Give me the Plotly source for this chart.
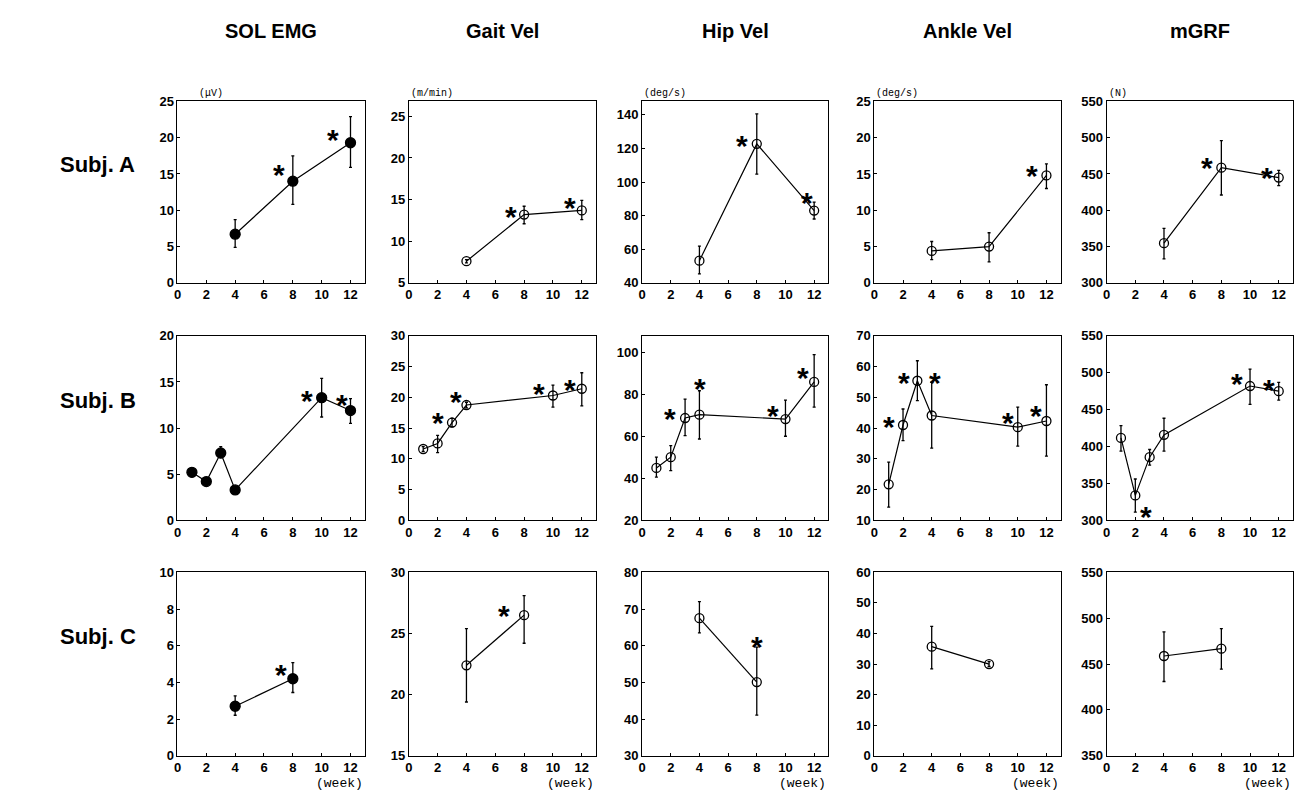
import plotly.graph_objects as go

# ---------------- data ----------------
weeks_A = [4, 8, 12]
weeks_B = [1, 2, 3, 4, 10, 12]
weeks_C = [4, 8]

col_titles = ["SOL EMG", "Gait Vel", "Hip Vel", "Ankle Vel", "mGRF"]
row_titles = ["Subj. A", "Subj. B", "Subj. C"]
unit_labels = ["(\u03bcV)", "(m/min)", "(deg/s)", "(deg/s)", "(N)"]
x_ticks = [0, 2, 4, 6, 8, 10, 12]

# SOL EMG
sol_A = [6.7, 14.0, 19.3]
sol_A_hi = [8.7, 17.5, 22.9]
sol_A_lo = [4.9, 10.8, 15.9]
sol_B = [5.2, 4.2, 7.3, 3.3, 13.3, 11.9]
sol_B_hi = [5.7, 4.5, 8.0, 3.6, 15.4, 13.2]
sol_B_lo = [4.7, 3.9, 6.8, 3.0, 11.2, 10.5]
sol_C = [2.7, 4.2]
sol_C_hi = [3.27, 5.08]
sol_C_lo = [2.21, 3.45]

# Gait velocity
gait_A = [7.6, 13.2, 13.7]
gait_A_hi = [7.8, 14.2, 14.9]
gait_A_lo = [7.4, 12.1, 12.6]
gait_B = [11.6, 12.5, 15.9, 18.75, 20.3, 21.4]
gait_B_hi = [12.0, 13.8, 16.6, 19.2, 22.0, 24.0]
gait_B_lo = [11.2, 11.0, 15.2, 18.3, 18.4, 18.6]
gait_C = [22.4, 26.5]
gait_C_hi = [25.4, 28.1]
gait_C_lo = [19.4, 24.2]

# Hip velocity
hip_A = [53.2, 122.7, 83.0]
hip_A_hi = [61.9, 140.6, 88.0]
hip_A_lo = [45.4, 104.7, 78.0]
hip_B = [45.0, 50.1, 68.8, 70.4, 68.3, 86.0]
hip_B_hi = [50.1, 55.6, 77.8, 81.8, 77.3, 99.0]
hip_B_lo = [40.6, 43.7, 60.4, 58.8, 60.1, 74.0]
hip_C = [67.5, 50.1]
hip_C_hi = [72.0, 59.6]
hip_C_lo = [63.5, 41.1]

# Ankle velocity
ank_A = [4.4, 5.0, 14.8]
ank_A_hi = [5.7, 6.9, 16.4]
ank_A_lo = [3.2, 2.9, 13.0]
ank_B = [21.7, 41.0, 55.4, 44.1, 40.3, 42.3]
ank_B_hi = [28.9, 46.2, 61.9, 54.9, 46.8, 54.1]
ank_B_lo = [14.3, 35.9, 48.9, 33.5, 34.1, 30.9]
ank_C = [35.7, 30.0]
ank_C_hi = [42.3, 30.8]
ank_C_lo = [28.4, 29.2]

# mean ground reaction force
grf_A = [354.7, 458.7, 445.0]
grf_A_hi = [375.0, 496.0, 455.0]
grf_A_lo = [333.0, 421.0, 434.0]
grf_B = [411.7, 333.8, 385.6, 415.8, 482.0, 475.0]
grf_B_hi = [428.4, 356.0, 396.0, 438.3, 505.0, 487.0]
grf_B_lo = [393.7, 311.0, 374.7, 393.7, 457.0, 463.0]
grf_C = [458.8, 466.8]
grf_C_hi = [485.1, 488.7]
grf_C_lo = [431.0, 444.4]

# significance marks: (week, offset in weeks, offset in y units)
stars_sol_A = [(8, -0.96, 2.1), (12, -1.24, 1.7)]
stars_gait_A = [(8, -0.9, 0.9), (12, -0.8, 1.4)]
stars_hip_A = [(8, -1.0, 4.3), (12, -0.5, 10)]
stars_ank_A = [(12, -1.0, 1.2)]
stars_grf_A = [(8, -1.0, 12), (12, -0.8, 13)]
stars_sol_B = [(10, -1.0, 0.7), (12, -0.6, 1.6)]
stars_gait_B = [(3, -0.95, 1.5), (4, -0.72, 2.0), (10, -0.95, 1.8), (12, -0.8, 1.4)]
stars_hip_B = [(3, -1.07, 4.3), (4, 0.06, 17), (10, -0.9, 6), (12, -0.8, 6.5)]
stars_ank_B = [(2, -1.0, 2.5), (3, -0.95, 2.2), (4, 0.2, 13.8), (10, -0.7, 4.6), (12, -0.7, 4.6)]
stars_grf_B = [(2, 0.72, -16), (10, -0.93, 15), (12, -0.7, 15)]
stars_sol_C = [(8, -0.8, 0.7)]
stars_gait_C = [(8, -1.4, 0.7)]
stars_hip_C = [(8, 0.0, 12.2)]
stars_ank_C = []
stars_grf_C = []

panels = [
    [(weeks_A, sol_A, sol_A_hi, sol_A_lo, stars_sol_A),
     (weeks_A, gait_A, gait_A_hi, gait_A_lo, stars_gait_A),
     (weeks_A, hip_A, hip_A_hi, hip_A_lo, stars_hip_A),
     (weeks_A, ank_A, ank_A_hi, ank_A_lo, stars_ank_A),
     (weeks_A, grf_A, grf_A_hi, grf_A_lo, stars_grf_A)],
    [(weeks_B, sol_B, sol_B_hi, sol_B_lo, stars_sol_B),
     (weeks_B, gait_B, gait_B_hi, gait_B_lo, stars_gait_B),
     (weeks_B, hip_B, hip_B_hi, hip_B_lo, stars_hip_B),
     (weeks_B, ank_B, ank_B_hi, ank_B_lo, stars_ank_B),
     (weeks_B, grf_B, grf_B_hi, grf_B_lo, stars_grf_B)],
    [(weeks_C, sol_C, sol_C_hi, sol_C_lo, stars_sol_C),
     (weeks_C, gait_C, gait_C_hi, gait_C_lo, stars_gait_C),
     (weeks_C, hip_C, hip_C_hi, hip_C_lo, stars_hip_C),
     (weeks_C, ank_C, ank_C_hi, ank_C_lo, stars_ank_C),
     (weeks_C, grf_C, grf_C_hi, grf_C_lo, stars_grf_C)],
]

# y axis ranges and tick steps per panel
y_ranges = [
    [(0, 25, 5), (5, 26.8, 5), (40, 148, 20), (0, 25, 5), (300, 550, 50)],
    [(0, 20, 5), (0, 30, 5), (20, 108, 20), (10, 70, 10), (300, 550, 50)],
    [(0, 10, 2), (15, 30, 5), (30, 80, 10), (0, 60, 10), (350, 550, 50)],
]

# ---------------- layout ----------------
W, H = 1304, 798
col_px = [(166, 354), (398, 586), (632, 819), (865, 1052), (1098, 1285)]
row_px = [(88, 273), (327, 515), (568, 755)]

FONT = "Liberation Sans, Arial, sans-serif"
MONO = "Liberation Mono, Courier New, monospace"

fig = go.Figure()
layout = dict(
    width=W, height=H, margin=dict(l=0, r=0, t=0, b=0),
    paper_bgcolor="white", plot_bgcolor="white", showlegend=False,
)
annotations = []

for r in range(3):
    for c in range(5):
        k = r * 5 + c + 1
        xs, ys, hi, lo, stars = panels[r][c]
        ymin, ymax, dt = y_ranges[r][c]
        sfx = "" if k == 1 else str(k)
        x0, x1 = col_px[c]
        y0, y1 = row_px[r]
        layout["xaxis" + sfx] = dict(
            domain=[x0 / W, x1 / W], range=[0, 13], anchor="y" + sfx,
            tickvals=x_ticks, ticks="inside", ticklen=3, tickcolor="black",
            showline=True, linecolor="black", linewidth=1, mirror=True,
            showgrid=False, zeroline=False,
            tickfont=dict(family=FONT, size=13, color="black", weight="bold"),
        )
        layout["yaxis" + sfx] = dict(
            domain=[1 - y1 / H, 1 - y0 / H], range=[ymin, ymax], anchor="x" + sfx,
            tick0=ymin, dtick=dt, ticks="inside", ticklen=3, tickcolor="black",
            showline=True, linecolor="black", linewidth=1, mirror=True,
            showgrid=False, zeroline=False,
            tickfont=dict(family=FONT, size=13, color="black", weight="bold"),
        )
        fig.add_trace(go.Scatter(
            x=xs, y=ys, mode="lines+markers",
            xaxis="x" + sfx, yaxis="y" + sfx,
            line=dict(color="black", width=1.2),
            marker=dict(symbol="circle" if c == 0 else "circle-open",
                        size=10 if c == 0 else 9,
                        color="black", line=dict(color="black", width=1.3)),
            error_y=dict(type="data", symmetric=False,
                         array=[h - m for h, m in zip(hi, ys)],
                         arrayminus=[m - l for m, l in zip(ys, lo)],
                         color="black", thickness=1.3, width=1.5),
            hoverinfo="skip",
        ))
        lookup = dict(zip(xs, ys))
        for (wk, dx, dy) in stars:
            annotations.append(dict(
                x=wk + dx, y=lookup[wk] + dy, xref="x" + sfx, yref="y" + sfx,
                text="<b>*</b>", showarrow=False, yshift=-9,
                font=dict(family=FONT, size=30, color="black"),
            ))
        if r == 0:
            annotations.append(dict(
                x=(x0 + (20 if c == 0 else 0)) / W, y=1 - (y0 - 8) / H,
                xref="paper", yref="paper",
                text=unit_labels[c], showarrow=False, xanchor="left", yanchor="middle",
                font=dict(family=MONO, size=10, color="black"),
            ))
        if r == 2:
            annotations.append(dict(
                x=x1 / W, y=1 - 783 / H, xref="paper", yref="paper",
                text="(week)", showarrow=False, xanchor="right", yanchor="middle",
                font=dict(family=MONO, size=13, color="black"),
            ))

for c in range(5):
    x0, x1 = col_px[c]
    annotations.append(dict(
        x=(x0 + x1) / 2 / W, y=1 - 16 / H, xref="paper", yref="paper",
        text="<b>" + col_titles[c] + "</b>", showarrow=False,
        xanchor="center", yanchor="middle",
        font=dict(family=FONT, size=20, color="black"),
    ))
for r in range(3):
    y0, y1 = row_px[r]
    annotations.append(dict(
        x=86 / W, y=1 - ((y0 + y1) / 2 - 28) / H, xref="paper", yref="paper",
        text="<b>" + row_titles[r] + "</b>", showarrow=False,
        xanchor="center", yanchor="middle",
        font=dict(family=FONT, size=22, color="black"),
    ))

layout["annotations"] = annotations
fig.update_layout(**layout)
fig.write_html("out.html")
